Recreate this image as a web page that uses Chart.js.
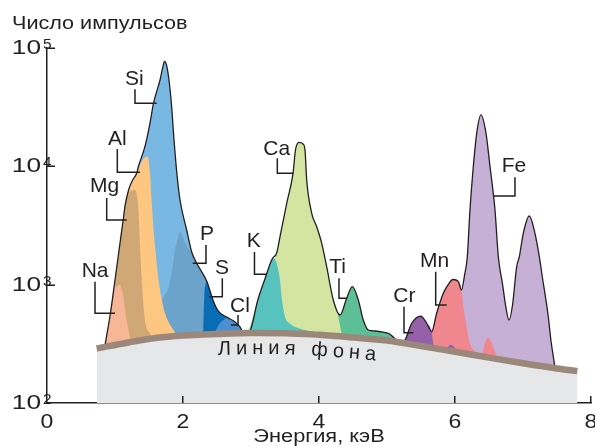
<!DOCTYPE html>
<html>
<head>
<meta charset="utf-8">
<script src="https://cdn.jsdelivr.net/npm/chart.js@4.4.1/dist/chart.umd.min.js"></script>
<style>
  html, body { margin: 0; padding: 0; background: #ffffff; }
  #wrap { width: 595px; height: 446px; }
</style>
</head>
<body>
<div id="wrap"><canvas id="spectrumChart" width="595" height="446"></canvas></div>
<script>
// Axis ticks
const energyTicks = [0, 2, 4, 6, 8];                 // keV
const countTicks = [100, 1000, 10000, 100000];       // counts
const countExponents = ['2', '3', '4', '5'];

// Total measured spectrum, [energy keV, counts]
const spectrum = [
  [0.85,300],[0.94,611],[1.00,1095],[1.06,1963],[1.12,3520],[1.15,4715],[1.20,6311],[1.26,7667],
  [1.32,8780],[1.343,9930],[1.44,14660],[1.515,23230],[1.566,34100],[1.662,53660],[1.70,67800],
  [1.728,77000],[1.757,71800],[1.794,53660],[1.831,33000],[1.868,16700],[1.912,8450],[1.956,5195],
  [2.054,2897],[2.128,1888],[2.20,1525],[2.348,1074],[2.446,728],[2.519,598],[2.643,532],[2.765,484],
  [2.838,439],[2.90,385],
  [2.97,390],[3.10,742],[3.21,1140],[3.29,1550],[3.32,1680],[3.378,1852],[3.426,2529],[3.525,4870],
  [3.618,8733],[3.654,13740],[3.706,15910],[3.765,15450],[3.794,13740],[3.819,7665],[3.893,4010],
  [3.966,3090],[4.04,2237],[4.113,1419],[4.21,742],[4.31,554],[4.407,767],[4.49,961],[4.578,742],
  [4.651,503],[4.725,414],[4.82,406],[4.94,398],[5.04,383],[5.14,340],[5.20,325],
  [5.24,325],[5.363,472],[5.496,543],[5.584,472],[5.657,400],[5.73,573],[5.828,845],[5.90,1000],
  [5.97,1106],[6.05,1060],[6.096,901],[6.14,1200],[6.181,1723],[6.22,4276],[6.269,9930],[6.319,19010],
  [6.382,27170],[6.456,19010],[6.515,9930],[6.588,4276],[6.637,1723],[6.70,1000],[6.743,673],
  [6.794,503],[6.846,673],[6.907,1419],[6.946,1723],[7.004,2718],[7.093,3804],[7.176,2718],
  [7.24,1723],[7.28,1207],[7.372,536],[7.41,341],[7.446,246],[7.47,200]
];

// Background continuum
const background = [
  [0.73,289],[1.2,325],[1.6,354],[2.0,372],[2.5,383],[3.0,390],[3.5,389],[4.0,377],
  [4.5,358],[5.0,337],[5.5,303],[6.0,271],[6.5,242],[7.0,217],[7.5,196],[7.8,186]
];

// Individual element lines
const naPeak = [[0.85,300],[0.94,611],[0.98,890],[1.025,965],[1.065,1000],[1.095,919],[1.122,791],
  [1.172,503],[1.22,363],[1.246,321],[1.30,290]];
const mgPeak = [[0.85,300],[0.94,611],[1.00,1095],[1.06,1963],[1.12,3520],[1.15,4715],[1.20,5900],
  [1.25,6250],[1.294,6311],[1.32,5800],[1.343,4300],[1.368,2090],[1.393,1095],[1.44,503],[1.515,388],[1.57,340]];
const alPeak = [[0.85,300],[1.00,1095],[1.12,3520],[1.20,6311],[1.26,7600],[1.32,8700],[1.39,10900],
  [1.44,11900],[1.48,12060],[1.515,8700],[1.54,5000],[1.565,3000],[1.60,1800],[1.64,1100],[1.69,740],
  [1.735,575],[1.80,470],[1.86,414],[1.91,375],[1.96,345]];
const siPeak = [[0.85,300],[0.94,611],[1.00,1095],[1.06,1963],[1.12,3520],[1.15,4715],[1.20,6311],
  [1.26,7667],[1.32,8780],[1.343,9930],[1.44,14660],[1.515,23230],[1.566,34100],[1.662,53660],[1.70,67800],
  [1.728,77000],[1.757,71800],[1.794,53660],[1.831,33000],[1.868,16700],[1.912,8450],[1.956,5195],
  [2.054,2897],[2.128,1888],[2.20,1525],[2.348,1074],[2.446,728],[2.519,598],[2.643,532],[2.765,484],
  [2.838,439],[2.90,385]];
const pPeak = [[1.66,650],[1.72,800],[1.784,930],[1.82,1150],[1.86,1600],[1.88,1963],[1.907,2240],
  [1.956,2800],[1.99,2600],[2.05,2150],[2.10,1950],[2.128,1870],[2.20,1515],[2.348,1070],[2.446,725],
  [2.519,595],[2.643,530],[2.765,482],[2.838,437],[2.90,380]];
const sPeak = [[2.295,380],[2.305,600],[2.315,850],[2.33,1000],[2.348,1070],[2.40,880],[2.446,725],
  [2.519,595],[2.60,545],[2.70,500],[2.80,440],[2.86,385]];
const clPeak = [[2.46,370],[2.49,420],[2.54,470],[2.60,505],[2.643,528],[2.70,505],[2.765,482],
  [2.838,437],[2.90,380]];
const kPeak = [[2.95,380],[3.03,520],[3.10,740],[3.21,1135],[3.29,1545],[3.32,1675],[3.35,1650],
  [3.378,1515],[3.426,1095],[3.45,790],[3.50,535],[3.57,470],[3.70,428],[3.85,405],[4.0,370]];
const caPeak = [[2.95,380],[3.10,742],[3.21,1140],[3.29,1550],[3.32,1680],[3.378,1852],[3.426,2529],
  [3.525,4870],[3.618,8733],[3.654,13740],[3.706,15910],[3.765,15450],[3.794,13740],[3.819,7665],
  [3.893,4010],[3.966,3090],[4.04,2237],[4.113,1419],[4.21,742],[4.26,630],[4.30,480],[4.36,340],[4.45,310]];
const tiPeak = [[4.20,742],[4.31,554],[4.407,767],[4.49,961],[4.578,742],[4.651,503],[4.725,414],
  [4.82,406],[4.94,398],[5.04,383],[5.14,340],[5.20,310]];
const crPeak = [[5.22,310],[5.24,325],[5.363,472],[5.496,543],[5.584,472],[5.657,400],[5.68,320],
  [5.72,285],[5.80,260],[5.87,285],[5.94,310],[6.01,285],[6.08,250]];
const mnPeak = [[5.60,300],[5.657,400],[5.73,573],[5.828,845],[5.90,1000],[5.97,1106],[6.05,1060],
  [6.096,901],[6.122,653],[6.172,442],[6.22,319],[6.294,275],[6.35,245],[6.40,260],[6.44,320],
  [6.49,359],[6.53,330],[6.57,290],[6.62,245],[6.70,215]];
const fePeak = [[6.096,901],[6.14,1200],[6.181,1723],[6.22,4276],[6.269,9930],[6.319,19010],
  [6.382,27170],[6.456,19010],[6.515,9930],[6.588,4276],[6.637,1723],[6.70,1000],[6.743,673],
  [6.794,503],[6.846,673],[6.907,1419],[6.946,1723],[7.004,2718],[7.093,3804],[7.176,2718],
  [7.24,1723],[7.28,1207],[7.372,536],[7.41,341],[7.446,246],[7.47,200]];

// Callout placement (energy, counts): text anchor and leader path
const callouts = [
  { name: 'Na', at: [0.510, 1168],  path: [[0.706, 1060], [0.706, 573], [1.000, 573]] },
  { name: 'Mg', at: [0.632, 6069],  path: [[0.878, 5400], [0.878, 3520], [1.172, 3520]] },
  { name: 'Al', at: [0.897, 15140], path: [[1.034, 14010], [1.034, 8905], [1.368, 8905]] },
  { name: 'Si', at: [1.147, 48700], path: [[1.294, 44800], [1.294, 34100], [1.613, 34100]] },
  { name: 'P',  at: [2.250, 2385],  path: [[2.338, 2164], [2.338, 1516], [2.143, 1516]] },
  { name: 'S',  at: [2.471, 1231],  path: [[2.578, 1132], [2.578, 791], [2.387, 791]] },
  { name: 'Cl', at: [2.691, 588],   path: [[2.809, 554], [2.809, 456], [2.706, 456]] },
  { name: 'K',  at: [2.937, 2062],  path: [[3.051, 1888], [3.051, 1224], [3.235, 1224]] },
  { name: 'Ca', at: [3.181, 12470], path: [[3.387, 11690], [3.387, 8733], [3.622, 8733]] },
  { name: 'Ti', at: [4.151, 1248],  path: [[4.294, 1132], [4.294, 767], [4.416, 767]] },
  { name: 'Cr', at: [5.093, 707],   path: [[5.250, 651], [5.250, 393], [5.387, 393]] },
  { name: 'Mn', at: [5.485, 1410],  path: [[5.716, 1287], [5.716, 673], [5.878, 673]] },
  { name: 'Fe', at: [6.687, 8990],  path: [[6.882, 8080], [6.882, 5616], [6.563, 5616]] }
];

const INK = '#231f20';
const FONT = '"Liberation Sans", Arial, sans-serif';

const toXY = pts => pts.map(([e, n]) => ({ x: e, y: n }));

function area(label, pts, color) {
  return {
    label, data: toXY(pts), fill: 'start', backgroundColor: color,
    borderWidth: 0, pointRadius: 0, cubicInterpolationMode: 'monotone'
  };
}

// Index 0 is painted last (on top)
const datasets = [
  { label: 'Линия фона', data: toXY(background), fill: 'start', backgroundColor: '#e6e7e8',
    borderColor: '#9c887b', borderWidth: 6.5, borderCapStyle: 'butt', pointRadius: 0,
    cubicInterpolationMode: 'monotone' },
  { label: 'Спектр', data: toXY(spectrum), fill: false, borderColor: INK, borderWidth: 1.3,
    pointRadius: 0, cubicInterpolationMode: 'monotone' },
  area('Na', naPeak, '#f7b696'),
  area('Mg', mgPeak, '#d0a876'),
  area('Al', alPeak, '#fdc681'),
  area('Cl', clPeak, '#4a8fcf'),
  area('S', sPeak, '#096db6'),
  area('P', pPeak, '#6ca3cb'),
  area('Si', siPeak, '#7ab8e4'),
  area('K', kPeak, '#58c3be'),
  area('Ca', caPeak, '#d4e4a1'),
  area('Ti', tiPeak, '#5cbf96'),
  area('Cr', crPeak, '#9461a9'),
  area('Mn', mnPeak, '#f1878e'),
  area('Fe', fePeak, '#c6b0d6')
];
datasets.forEach((d, i) => { d.order = i; });

function drawText(ctx, text, px, py, size, sx, align) {
  ctx.save();
  ctx.font = size + 'px ' + FONT;
  ctx.textAlign = align;
  ctx.textBaseline = 'alphabetic';
  ctx.translate(px, py);
  ctx.scale(sx, 1);
  ctx.fillText(text, 0, 0);
  ctx.restore();
}

const decorations = {
  id: 'decorations',
  afterDraw(chart) {
    const { ctx, scales: { x, y } } = chart;
    ctx.save();
    ctx.strokeStyle = INK;
    ctx.fillStyle = INK;
    ctx.lineWidth = 1.5;
    ctx.lineCap = 'butt';

    const seg = (x1, y1, x2, y2) => { ctx.beginPath(); ctx.moveTo(x1, y1); ctx.lineTo(x2, y2); ctx.stroke(); };

    // inward tick marks
    countTicks.slice(1).forEach(v => {
      const py = Math.round(y.getPixelForValue(v)) + 0.25;
      seg(x.left, py, x.left + 8, py);
    });
    energyTicks.slice(1).forEach(v => {
      const px = Math.round(x.getPixelForValue(v)) - 0.25;
      seg(px, y.bottom, px, y.bottom - 7);
    });

    // count tick labels 10^n
    countTicks.forEach((v, i) => {
      const py = y.getPixelForValue(v);
      drawText(ctx, '10', x.left - 6, py + 6, 21, 1.25, 'right');
      drawText(ctx, countExponents[i], x.left - 4, py + 1, 14, 1.1, 'left');
    });

    // energy tick labels
    energyTicks.forEach(v => {
      drawText(ctx, String(v), x.getPixelForValue(v), y.bottom + 25, 20, 1.15, 'center');
    });

    // axis titles
    drawText(ctx, 'Число импульсов', x.left - 35, y.top - 19, 18, 1.2, 'left');
    drawText(ctx, 'Энергия, кэВ', (x.left + x.right) / 2, y.bottom + 39, 18, 1.21, 'center');

    // caption along the background line
    const bgY = px => {
      const e = x.getValueForPixel(px);
      let k = 0;
      while (k < background.length - 2 && background[k + 1][0] < e) k++;
      const [e0, n0] = background[k], [e1, n1] = background[k + 1];
      const t = (e - e0) / (e1 - e0);
      const ln = Math.log10(n0) + t * (Math.log10(n1) - Math.log10(n0));
      return y.getPixelForValue(Math.pow(10, ln));
    };
    ctx.font = '20px ' + FONT;
    let cx = x.getPixelForValue(2.515);
    for (const ch of 'Линия фона') {
      const w = ctx.measureText(ch).width;
      const mid = cx + w / 2;
      const base = bgY(mid) + 21;
      const ang = Math.atan((bgY(mid + 4) - bgY(mid - 4)) / 8);
      ctx.save();
      ctx.translate(mid, base);
      ctx.rotate(ang);
      ctx.textAlign = 'center';
      ctx.textBaseline = 'alphabetic';
      ctx.fillText(ch, 0, 0);
      ctx.restore();
      cx += w + 5;
    }

    // element callouts
    callouts.forEach(c => {
      drawText(ctx, c.name, x.getPixelForValue(c.at[0]), y.getPixelForValue(c.at[1]), 21, 1.0, 'left');
      ctx.beginPath();
      c.path.forEach(([e, n], i) => {
        const px = x.getPixelForValue(e), py = y.getPixelForValue(n);
        if (i === 0) ctx.moveTo(px, py); else ctx.lineTo(px, py);
      });
      ctx.stroke();
    });
    ctx.restore();
  }
};

new Chart(document.getElementById('spectrumChart'), {
  type: 'line',
  data: { datasets },
  options: {
    responsive: false,
    devicePixelRatio: 1,
    animation: false,
    events: [],
    layout: { padding: { top: 48, right: 4, bottom: 0, left: 0 } },
    plugins: { legend: { display: false }, tooltip: { enabled: false } },
    scales: {
      x: {
        type: 'linear', min: 0, max: 8, z: 1,
        ticks: { display: false, stepSize: 2 },
        grid: { display: false, drawTicks: false },
        border: { display: true, color: INK, width: 1.5 },
        afterFit(s) { s.height = 43; s.paddingLeft = 0; s.paddingRight = 0; }
      },
      y: {
        type: 'logarithmic', min: 100, max: 100000, z: 1,
        ticks: { display: false },
        grid: { display: false, drawTicks: false },
        border: { display: true, color: INK, width: 1.5 },
        afterBuildTicks(s) { s.ticks = countTicks.map(v => ({ value: v })); },
        afterFit(s) { s.width = 47; }
      }
    }
  },
  plugins: [decorations]
});
</script>
</body>
</html>
